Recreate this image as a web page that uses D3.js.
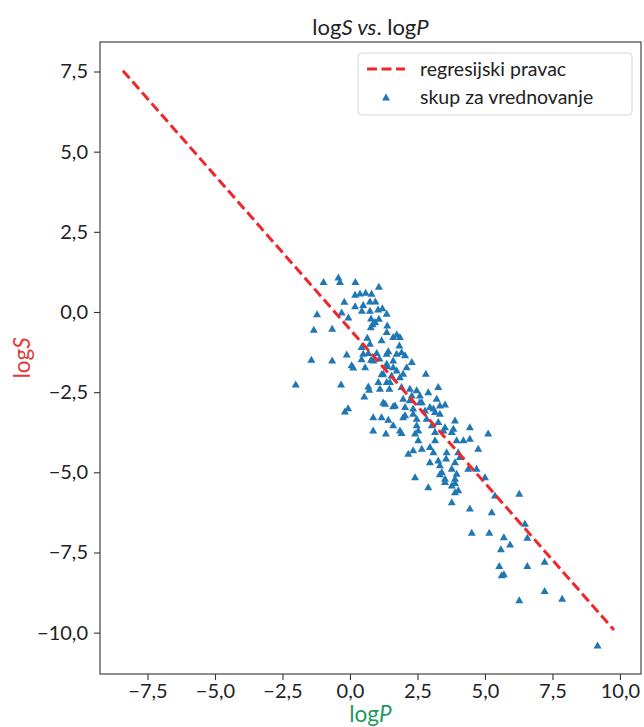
<!DOCTYPE html>
<html>
<head>
  <meta charset="utf-8">
  <title>logS vs. logP</title>
  <script src="https://cdn.jsdelivr.net/npm/d3@7"></script>
</head>
<style>
  html,
  body {
    margin: 0;
    padding: 0;
    background: white;
    overflow: hidden
  }

  svg {
    font-family: Lato, sans-serif;
  }
</style>
<body>
  <div id="chart"></div>
</body>
<script>
  // validation set: [logP, logS]
  const validX = [-0.98, -0.43, -0.37, 0.20, 1.07, 0.19, 0.37, 0.58, 0.80, -0.21, 0.19, 0.49, 0.74, 0.94, 0.44, 0.74,
    1.04, 1.20, -1.22, -0.31, -0.06, 0.78, 1.07, 1.36, -1.34, -0.66, 0.77, 0.84, 0.93, 1.38, 1.36, 0.64, 1.17, 1.60,
    1.73, 1.85, 0.74, 1.83, 0.43, 0.68, 0.49, -0.12, 0.99, 1.36, 1.42, 1.73, 1.91, 2.04, 0.43, 0.78, 0.86, 1.09, 1.60,
    2.29, -1.43, -0.66, 0.06, 0.12, 0.56, 1.36, 1.38, 1.60, 1.73, 2.10, 2.81, 1.23, 1.54, 1.85, 1.97, 1.17, 1.05, 1.48,
    1.36, -0.33, -2.01, 0.68, 0.71, 1.11, 1.46, 1.91, 2.22, 2.47, 2.29, 2.59, 2.90, 3.27, 0.53, 1.97, 2.22, 2.66, 3.21,
    3.33, 1.23, 1.60, -0.19, -0.07, 2.04, 2.34, 2.78, 3.09, 1.30, 1.67, 2.59, 2.96, 3.52, 3.15, 3.33, 2.34, 2.04, 1.17,
    0.86, 1.42, 1.97, 2.47, 2.84, 3.27, 3.89, 1.60, 1.85, 2.47, 3.03, 3.15, 3.52, 3.77, 4.44, 5.12, 1.33, 1.91, 2.41,
    0.86, 2.53, 3.46, 3.83, 3.15, 3.95, 4.20, 4.44, 2.53, 4.75, 2.16, 2.34, 2.66, 2.96, 3.09, 3.58, 4.01, 2.96, 3.27,
    3.56, 3.33, 3.89, 4.07, 3.40, 3.77, 4.38, 4.69, 3.95, 5.00, 2.41, 3.52, 3.89, 3.77, 2.90, 3.89, 4.01, 5.37, 3.77,
    4.44, 5.25, 3.52, 3.89, 6.27, 4.51, 5.16, 5.70, 5.93, 5.59, 6.48, 6.57, 5.53, 6.57, 7.21, 5.62, 5.70, 7.21, 6.27,
    7.86, 9.17, 3.33]
  const validY = [0.95, 1.09, 0.95, 0.95, 0.80, 0.55, 0.59, 0.61, 0.58, 0.33, 0.19, 0.23, 0.34, 0.34, 0.05, 0.05,
    0.09, 0.13, -0.06, 0.00, -0.16, -0.19, -0.20, -0.04, -0.54, -0.51, -0.46, -0.37, -0.30, -0.41, -0.61, -0.79, -0.87,
    -0.77, -0.69, -0.77, -0.98, -1.03, -1.08, -1.27, -1.29, -1.31, -1.27, -1.29, -1.21, -1.29, -1.24, -1.34, -1.46,
    -1.48, -1.50, -1.44, -1.50, -1.55, -1.48, -1.50, -1.65, -1.72, -1.71, -1.60, -1.68, -1.71, -1.81, -1.71, -1.91,
    -1.91, -1.97, -2.02, -1.91, -1.93, -2.17, -2.17, -2.17, -2.25, -2.25, -2.31, -2.41, -2.38, -2.38, -2.33, -2.38,
    -2.43, -2.59, -2.59, -2.49, -2.33, -2.62, -2.69, -2.74, -2.80, -2.69, -2.90, -2.81, -2.93, -3.09, -2.99, -2.95,
    -3.00, -3.06, -3.00, -2.85, -2.90, -2.80, -2.95, -2.87, -3.11, -3.16, -3.16, -3.21, -3.27, -3.27, -3.35, -3.27,
    -3.32, -3.32, -3.42, -3.37, -3.52, -3.68, -3.52, -3.52, -3.73, -3.58, -3.73, -3.58, -3.78, -3.78, -3.76, -3.78,
    -3.68, -3.68, -3.68, -3.63, -3.99, -3.99, -3.99, -3.94, -3.99, -4.25, -4.41, -4.30, -4.25, -4.20, -4.36, -4.36,
    -4.36, -4.67, -4.62, -4.56, -4.77, -4.67, -4.51, -4.98, -4.88, -4.88, -4.88, -5.03, -5.14, -5.14, -5.19, -5.19,
    -5.40, -5.45, -5.61, -5.55, -5.71, -5.92, -6.12, -6.23, -5.29, -5.32, -5.66, -6.87, -6.87, -7.01, -7.24, -7.39,
    -6.59, -7.03, -7.91, -7.91, -7.78, -8.20, -8.17, -8.69, -8.98, -8.93, -10.39, -5.05]

  // regression line: logS = slope * logP + intercept
  const slope = -0.959
  const intercept = -0.54
  const lineX = [-8.41, 9.78]

  const xTicks = [-7.5, -5, -2.5, 0, 2.5, 5, 7.5, 10]
  const yTicks = [7.5, 5, 2.5, 0, -2.5, -5, -7.5, -10]
  const legendLabels = ['regresijski pravac', 'skup za vrednovanje']

  const W = 644, H = 727
  const pL = 100, pR = 641, pT = 42, pB = 674
  const fmt = d => d3.format('.1f')(d).replace('.', ',').replace('-', '\u2212')

  const svg = d3.select('#chart').append('svg')
    .attr('width', W).attr('height', H)

  const x = d3.scaleLinear().domain([-9.26, 10.78]).range([pL, pR])
  const y = d3.scaleLinear().domain([8.42, -11.29]).range([pT, pB])

  // axes
  const xAxis = svg.append('g')
    .attr('transform', `translate(0,${pB})`)
    .call(d3.axisBottom(x).tickValues(xTicks).tickFormat(fmt).tickSize(6).tickPadding(4))
  const yAxis = svg.append('g')
    .attr('transform', `translate(${pL},0)`)
    .call(d3.axisLeft(y).tickValues(yTicks).tickFormat(fmt).tickSize(6).tickPadding(6))
  ;[xAxis, yAxis].forEach(a => {
    a.select('.domain').remove()
    a.selectAll('line').attr('stroke', '#333').attr('stroke-width', 1.1)
    a.selectAll('text').attr('fill', '#222').style('font-size', '20px')
      .style('font-family', 'Lato, sans-serif')
  })

  // frame
  svg.append('rect')
    .attr('x', pL).attr('y', pT)
    .attr('width', pR - pL).attr('height', pB - pT)
    .attr('fill', 'none').attr('stroke', '#333').attr('stroke-width', 1.1)

  const tri = 'M0,-3.6L4,3.4L-4,3.4Z'
  const blue = '#1f77b4'
  const red = '#f0262b'

  svg.append('g').selectAll('path')
    .data(validX.map((d, i) => [d, validY[i]]))
    .enter().append('path')
    .attr('d', tri)
    .attr('fill', blue)
    .attr('transform', d => `translate(${x(d[0])},${y(d[1])})`)

  svg.append('path')
    .datum(lineX)
    .attr('d', d3.line().x(d => x(d)).y(d => y(slope * d + intercept)))
    .attr('fill', 'none')
    .attr('stroke', red)
    .attr('stroke-width', 3)
    .attr('stroke-dasharray', '10,4.5')

  // title and labels
  const title = svg.append('text')
    .attr('x', (pL + pR) / 2).attr('y', 35)
    .attr('text-anchor', 'middle')
    .style('font-size', '22px').attr('fill', '#222')
  title.append('tspan').text('log')
  title.append('tspan').style('font-style', 'italic').text('S')
  title.append('tspan').style('font-style', 'italic').text(' vs')
  title.append('tspan').text('. log')
  title.append('tspan').style('font-style', 'italic').text('P')

  const xl = svg.append('text')
    .attr('x', (pL + pR) / 2).attr('y', 722)
    .attr('text-anchor', 'middle')
    .style('font-size', '22.5px').attr('fill', '#1e9b5a')
  xl.append('tspan').text('log')
  xl.append('tspan').style('font-style', 'italic').text('P')

  const yl = svg.append('text')
    .attr('transform', `translate(30,${(pT + pB) / 2}) rotate(-90)`)
    .attr('text-anchor', 'middle')
    .style('font-size', '22.5px').attr('fill', '#e03a3a')
  yl.append('tspan').text('log')
  yl.append('tspan').style('font-style', 'italic').text('S')

  // legend
  const lg = svg.append('g')
  lg.append('rect')
    .attr('x', 358).attr('y', 53).attr('width', 274).attr('height', 62).attr('rx', 4)
    .attr('fill', 'white').attr('fill-opacity', 0.8).attr('stroke', '#d6d6d6')
  lg.append('line')
    .attr('x1', 367).attr('x2', 405).attr('y1', 69).attr('y2', 69)
    .attr('stroke', red).attr('stroke-width', 3).attr('stroke-dasharray', '10,4.5')
  lg.append('path').attr('d', tri).attr('fill', blue).attr('transform', 'translate(386,97)')
  lg.selectAll('text.lab')
    .data(legendLabels)
    .enter().append('text')
    .attr('class', 'lab')
    .attr('x', 420).attr('y', (d, i) => 76 + i * 28)
    .style('font-size', '19.5px').attr('fill', '#222')
    .text(d => d)
</script>
</html>
